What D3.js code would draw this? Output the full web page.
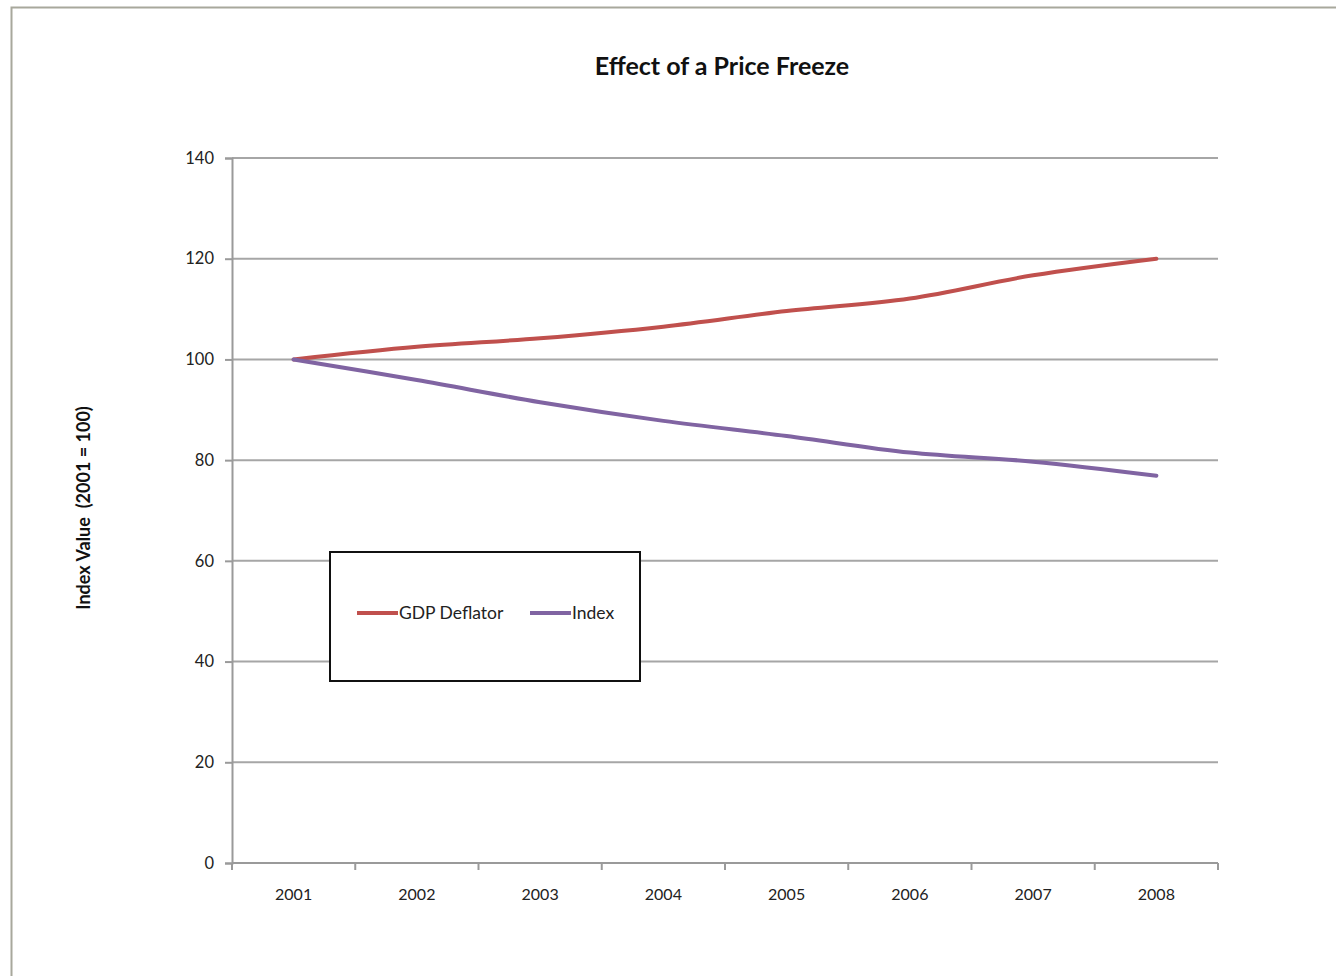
<!DOCTYPE html>
<html>
<head>
<meta charset="utf-8">
<script src="https://cdn.jsdelivr.net/npm/d3@7"></script>
<style>
  body { margin: 0; background: #fff; }
  svg { display: block; font-family: Lato, "Open Sans", sans-serif; }
</style>
</head>
<body>
<script>
// chart data
var years = ["2001", "2002", "2003", "2004", "2005", "2006", "2007", "2008"];
var gdpDeflator = [100, 102.5, 104.2, 106.5, 109.6, 112.1, 116.7, 120];
var priceIndex = [100, 95.9, 91.5, 87.8, 84.8, 81.5, 79.7, 76.9];
var yTicks = [0, 20, 40, 60, 80, 100, 120, 140];
var seriesNames = ["GDP Deflator", "Index"];

var svgWidth = 1336;
var svgHeight = 976;

var margin = { top: 158, right: 118, bottom: 113, left: 232 };
var chartWidth = svgWidth - margin.left - margin.right;
var chartHeight = svgHeight - margin.top - margin.bottom;

var colors = ["#c0504d", "#8064a2"];

var svg = d3.select("body").append("svg")
  .attr("width", svgWidth)
  .attr("height", svgHeight);

// outer frame
svg.append("rect")
  .attr("x", 11.5).attr("y", 7.5)
  .attr("width", 1400).attr("height", 1100)
  .attr("fill", "#fff")
  .attr("stroke", "#a8a89c")
  .attr("stroke-width", 2);

svg.append("text")
  .attr("x", 722).attr("y", 75)
  .attr("text-anchor", "middle")
  .attr("font-size", 25).attr("font-weight", "bold")
  .attr("fill", "#111")
  .text("Effect of a Price Freeze");

var g = svg.append("g")
  .attr("transform", `translate(${margin.left}, ${margin.top})`);

var x = d3.scaleBand().domain(years).range([0, chartWidth]);
var y = d3.scaleLinear().domain([0, 140]).range([chartHeight, 0]);

// gridlines
g.selectAll(".grid")
  .data(yTicks.filter(d => d > 0))
  .enter().append("line")
  .attr("x1", 0).attr("x2", chartWidth)
  .attr("y1", d => y(d)).attr("y2", d => y(d))
  .attr("stroke", "#a6a6a6").attr("stroke-width", 2);

// y axis
var leftAxis = d3.axisLeft(y).tickValues(yTicks).tickSize(7).tickPadding(11);
var yAx = g.append("g").call(leftAxis);
yAx.select(".domain").attr("stroke", "#9a9a9a").attr("stroke-width", 2);
yAx.selectAll(".tick line").attr("stroke", "#9a9a9a").attr("stroke-width", 2);
yAx.selectAll(".tick text").attr("font-size", 16.5).attr("fill", "#222")
  .attr("font-family", "Lato, sans-serif");

// x axis: ticks at band edges, labels at centers
var xAx = g.append("g").attr("transform", `translate(0, ${chartHeight})`);
xAx.append("line")
  .attr("x1", 0).attr("x2", chartWidth)
  .attr("stroke", "#9a9a9a").attr("stroke-width", 2);
var edges = years.map(d => x(d)).concat([chartWidth]);
xAx.selectAll(".xt")
  .data(edges)
  .enter().append("line")
  .attr("x1", d => d).attr("x2", d => d)
  .attr("y1", 0).attr("y2", 7)
  .attr("stroke", "#9a9a9a").attr("stroke-width", 2);
xAx.selectAll(".xl")
  .data(years)
  .enter().append("text")
  .attr("x", d => x(d) + x.bandwidth() / 2)
  .attr("y", 37)
  .attr("text-anchor", "middle")
  .attr("font-size", 16).attr("fill", "#222")
  .text(d => d);

// y axis title
svg.append("text")
  .attr("transform", "translate(90, 508) rotate(-90)")
  .attr("text-anchor", "middle")
  .attr("font-size", 18).attr("font-weight", "bold")
  .attr("fill", "#111")
  .attr("xml:space", "preserve")
  .text("Index Value  (2001 = 100)");

// lines
var line = d3.line()
  .x((d, i) => x(years[i]) + x.bandwidth() / 2)
  .y(d => y(d))
  .curve(d3.curveCatmullRom.alpha(0.5));

[gdpDeflator, priceIndex].forEach(function(series, i) {
  g.append("path")
    .datum(series)
    .attr("fill", "none")
    .attr("stroke", colors[i])
    .attr("stroke-width", 4)
    .attr("stroke-linecap", "round")
    .attr("d", line);
});

// legend
var legend = svg.append("g").attr("transform", "translate(330, 552)");
legend.append("rect")
  .attr("width", 310).attr("height", 129)
  .attr("fill", "#fff")
  .attr("stroke", "#111").attr("stroke-width", 2);

var legendX = [27, 200];
seriesNames.forEach(function(name, i) {
  legend.append("line")
    .attr("x1", legendX[i]).attr("x2", legendX[i] + 41)
    .attr("y1", 61).attr("y2", 61)
    .attr("stroke", colors[i]).attr("stroke-width", 4);
  legend.append("text")
    .attr("x", legendX[i] + 42).attr("y", 67)
    .attr("font-size", 17.5).attr("fill", "#222")
    .text(name);
});
</script>
</body>
</html>
